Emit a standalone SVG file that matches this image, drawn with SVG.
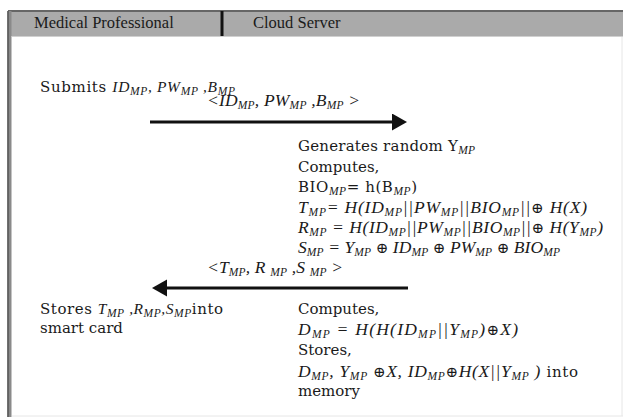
<svg xmlns="http://www.w3.org/2000/svg" width="623" height="417" viewBox="0 0 623 417">
<style>
.hdr{font-size:16.5px;fill:#1a1a1a}
.t{font-size:15px;fill:#1a1a1a}
.m{font-size:17.5px;font-style:italic;fill:#1a1a1a}
.i{font-style:italic;font-size:15.5px}
.s{font-style:italic;font-size:11.5px;baseline-shift:-2.5px}
.o{font-style:normal;font-size:15px}
.arrow{stroke:#111;stroke-width:3;fill:none}
</style>
<defs>
<marker id="ah" markerUnits="userSpaceOnUse" markerWidth="16" markerHeight="18" refX="8" refY="8.5" orient="auto">
<path d="M0,0 L15,8.5 L0,17 z" fill="#111"/>
</marker>
</defs>
<rect x="0" y="0" width="623" height="417" fill="#fff"/>
<g id="frame">
<rect x="8" y="11" width="615" height="25" fill="#aaaaaa"/>
<line x1="8" y1="11" x2="623" y2="11" stroke="#666" stroke-width="2"/>
<line x1="9.5" y1="11" x2="9.5" y2="417" stroke="#8a8a8a" stroke-width="4"/>
<line x1="8" y1="11" x2="8" y2="417" stroke="#555" stroke-width="1.5"/>
<line x1="12" y1="416" x2="623" y2="416" stroke="#e6e6e6" stroke-width="1"/>
<line x1="622" y1="36" x2="622" y2="416" stroke="#e6e6e6" stroke-width="1"/>
<line x1="222" y1="11" x2="222" y2="36" stroke="#111" stroke-width="3"/>
<line x1="12" y1="36.5" x2="623" y2="36.5" stroke="#d0d0d0" stroke-width="1"/>
</g>
<g id="medical-professional">
<text class="hdr" font-family="Liberation Serif, serif" x="34" y="28">Medical Professional</text>
<text class="t" font-family="DejaVu Serif, serif" x="40" y="91.5" textLength="195">Submits <tspan class="i" font-family="Liberation Serif, serif">ID</tspan><tspan class="s" font-family="Liberation Serif, serif">MP</tspan><tspan class="i" font-family="Liberation Serif, serif">, PW</tspan><tspan class="s" font-family="Liberation Serif, serif">MP</tspan><tspan class="i" font-family="Liberation Serif, serif"> ,B</tspan><tspan class="s" font-family="Liberation Serif, serif">MP</tspan></text>
<text class="t" font-family="DejaVu Serif, serif" x="40" y="314" textLength="183">Stores <tspan class="i" font-family="Liberation Serif, serif">T</tspan><tspan class="s" font-family="Liberation Serif, serif">MP</tspan><tspan class="i" font-family="Liberation Serif, serif"> ,R</tspan><tspan class="s" font-family="Liberation Serif, serif">MP</tspan><tspan class="i" font-family="Liberation Serif, serif">,S</tspan><tspan class="s" font-family="Liberation Serif, serif">MP</tspan>into</text>
<text class="t" font-family="DejaVu Serif, serif" x="40" y="333">smart card</text>
</g>
<g id="cloud-server">
<text class="hdr" font-family="Liberation Serif, serif" x="253" y="28">Cloud Server</text>
<text class="t" font-family="DejaVu Serif, serif" x="298" y="151" textLength="177">Generates random Y<tspan class="s" font-family="Liberation Serif, serif">MP</tspan></text>
<text class="t" font-family="DejaVu Serif, serif" x="298" y="172">Computes,</text>
<text class="t" font-family="DejaVu Serif, serif" x="298" y="192" textLength="119">BIO<tspan class="s" font-family="Liberation Serif, serif">MP</tspan>= h(B<tspan class="s" font-family="Liberation Serif, serif">MP</tspan>)</text>
<text class="m" font-family="Liberation Serif, serif" x="298" y="213" textLength="289">T<tspan class="s">MP</tspan>= H(ID<tspan class="s">MP</tspan>||PW<tspan class="s">MP</tspan>||BIO<tspan class="s">MP</tspan>||<tspan class="o" font-family="DejaVu Serif, serif">⊕</tspan> H(X)</text>
<text class="m" font-family="Liberation Serif, serif" x="298" y="233" textLength="305">R<tspan class="s">MP</tspan> = H(ID<tspan class="s">MP</tspan>||PW<tspan class="s">MP</tspan>||BIO<tspan class="s">MP</tspan>||<tspan class="o" font-family="DejaVu Serif, serif">⊕</tspan> H(Y<tspan class="s">MP</tspan>)</text>
<text class="m" font-family="Liberation Serif, serif" x="298" y="253" textLength="262">S<tspan class="s">MP</tspan> = Y<tspan class="s">MP</tspan> <tspan class="o" font-family="DejaVu Serif, serif">⊕</tspan> ID<tspan class="s">MP</tspan> <tspan class="o" font-family="DejaVu Serif, serif">⊕</tspan> PW<tspan class="s">MP</tspan> <tspan class="o" font-family="DejaVu Serif, serif">⊕</tspan> BIO<tspan class="s">MP</tspan></text>
<text class="t" font-family="DejaVu Serif, serif" x="298" y="314">Computes,</text>
<text class="m" font-family="Liberation Serif, serif" x="298" y="335" textLength="220">D<tspan class="s">MP</tspan> = H(H(ID<tspan class="s">MP</tspan>||Y<tspan class="s">MP</tspan>)<tspan class="o" font-family="DejaVu Serif, serif">⊕</tspan>X)</text>
<text class="t" font-family="DejaVu Serif, serif" x="298" y="355">Stores,</text>
<text class="m" font-family="Liberation Serif, serif" x="298" y="377" textLength="280">D<tspan class="s">MP</tspan>, Y<tspan class="s">MP</tspan> <tspan class="o" font-family="DejaVu Serif, serif">⊕</tspan>X, ID<tspan class="s">MP</tspan><tspan class="o" font-family="DejaVu Serif, serif">⊕</tspan>H(X||Y<tspan class="s">MP</tspan> )<tspan class="o" font-family="DejaVu Serif, serif"> into</tspan></text>
<text class="t" font-family="DejaVu Serif, serif" x="298" y="396">memory</text>
</g>
<g id="connectors">
<line class="arrow" x1="150" y1="122" x2="400" y2="122" marker-end="url(#ah)"/>
<text class="m" font-family="Liberation Serif, serif" x="207" y="106" textLength="153">&lt;ID<tspan class="s">MP</tspan>, PW<tspan class="s">MP</tspan> ,B<tspan class="s">MP</tspan> &gt;</text>
<line class="arrow" x1="408" y1="288" x2="159" y2="288" marker-end="url(#ah)"/>
<text class="m" font-family="Liberation Serif, serif" x="207" y="273" textLength="136">&lt;T<tspan class="s">MP</tspan>, R <tspan class="s">MP</tspan> ,S <tspan class="s">MP</tspan> &gt;</text>
</g>
</svg>
